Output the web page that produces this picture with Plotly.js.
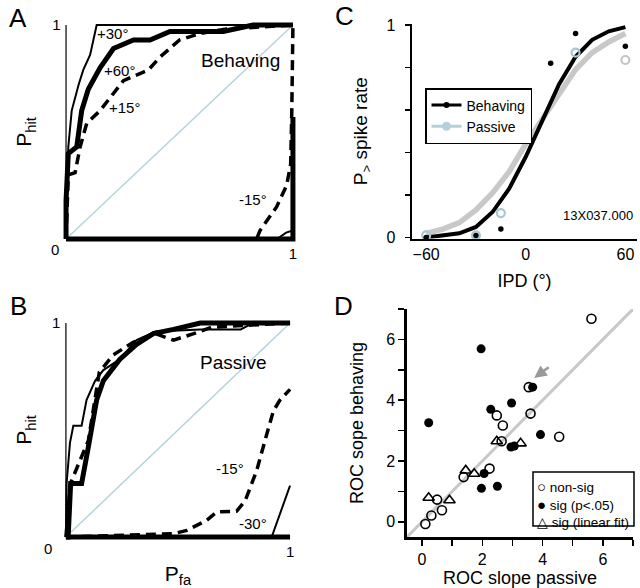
<!DOCTYPE html>
<html><head><meta charset="utf-8">
<script src="https://cdn.plot.ly/plotly-3.0.1.min.js"></script>
<style>body{margin:0;background:#fff}#chart{width:640px;height:588px}</style>
</head><body><div id="chart"></div>
<script>
// ---------- Panel A: ROC curves, behaving ----------
const aP30_fa  = [0, 0, 0.01, 0.025, 0.055, 0.076, 0.106, 0.135, 1];
const aP30_hit = [0, 0.03, 0.43, 0.60, 0.72, 0.79, 0.86, 1.0, 1.0];
const aP60_fa  = [0, 0, 0.01, 0.047, 0.069, 0.098, 0.15, 0.209, 0.297, 0.37, 0.458, 0.693, 0.824, 1];
const aP60_hit = [0, 0.18, 0.40, 0.43, 0.60, 0.70, 0.80, 0.89, 0.93, 0.93, 0.97, 0.97, 1.0, 1.0];
const aP15_fa  = [0, 0.01, 0.04, 0.062, 0.091, 0.15, 0.194, 0.253, 0.341, 0.363, 0.414, 0.5, 0.59, 0.7, 1];
const aP15_hit = [0, 0.30, 0.31, 0.43, 0.54, 0.60, 0.66, 0.74, 0.78, 0.79, 0.85, 0.93, 0.96, 0.98, 1.0];
const aM15_fa  = [0, 0.84, 0.855, 0.928, 0.972, 0.99, 0.995, 1, 1];
const aM15_hit = [0, 0, 0.04, 0.15, 0.25, 0.35, 0.60, 0.88, 1.0];
const aM30_fa  = [0, 0.93, 0.97, 1, 1];
const aM30_hit = [0, 0, 0.03, 0.04, 0.10];
const aM60_fa  = [0, 1, 1];
const aM60_hit = [0, 0, 0.57];
// ---------- Panel B: ROC curves, passive ----------
const bP30_fa  = [0, 0.003, 0.018, 0.033, 0.07, 0.092, 0.13, 0.167, 0.24, 0.315, 0.40, 0.6, 0.78, 0.836, 1];
const bP30_hit = [0, 0.25, 0.44, 0.52, 0.52, 0.64, 0.73, 0.78, 0.83, 0.92, 0.96, 0.97, 0.97, 1.0, 1.0];
const bP60_fa  = [0, 0.01, 0.021, 0.07, 0.10, 0.137, 0.167, 0.24, 0.315, 0.39, 0.48, 0.6, 1];
const bP60_hit = [0, 0, 0.25, 0.25, 0.42, 0.64, 0.73, 0.83, 0.90, 0.95, 0.97, 1.0, 1.0];
const bP15_fa  = [0, 0.02, 0.10, 0.14, 0.149, 0.21, 0.30, 0.40, 0.48, 0.57, 0.65, 1];
const bP15_hit = [0, 0.25, 0.45, 0.70, 0.77, 0.85, 0.91, 0.95, 0.92, 0.95, 0.98, 1.0];
const bM15_fa  = [0, 0.48, 0.54, 0.628, 0.673, 0.762, 0.80, 0.851, 0.896, 0.926, 0.955, 1];
const bM15_hit = [0, 0.016, 0.031, 0.078, 0.117, 0.121, 0.17, 0.31, 0.48, 0.59, 0.64, 0.69];
const bM30_fa  = [0, 0.918, 1];
const bM30_hit = [0, 0, 0.24];
const bM60_fa  = [0, 1];
const bM60_hit = [0, 0];
const chance   = [0, 1];
// ---------- Panel C: neurometric ----------
const ipdPts      = [-60, -30, -15, 15, 30, 60];
const behavePts   = [0.0, 0.01, 0.04, 0.82, 0.96, 0.90];
const passIpd     = [-60, -30, -15, 30, 60];
const passivePts  = [0.01, 0.01, 0.115, 0.87, 0.835];
const passColors  = ['#a9c6d3', '#a9c6d3', '#a9c6d3', '#a9c6d3', '#c4c4c4'];
const ipdCurve    = [-60, -50, -40, -30, -20, -10, 0, 10, 20, 30, 40, 50, 60];
const behaveCurve = [0.00, 0.01, 0.02, 0.05, 0.12, 0.23, 0.38, 0.55, 0.72, 0.85, 0.93, 0.97, 0.99];
const passCurve   = [0.02, 0.04, 0.07, 0.13, 0.21, 0.31, 0.44, 0.56, 0.68, 0.79, 0.87, 0.92, 0.96];
// ---------- Panel D: ROC slopes ----------
const nsPassive = [5.62, 3.60, 2.48, 2.68, 2.64, 4.55, 2.24, 1.38, 0.50, 0.66, 0.31, 0.11, 3.54];
const nsBehave  = [6.68, 3.56, 3.50, 3.17, 2.65, 2.80, 1.75, 1.47, 0.73, 0.38, 0.21, -0.07, 4.43];
const sgPassive = [1.96, 0.22, 2.28, 2.97, 3.67, 3.93, 2.95, 3.06, 2.06, 1.97, 2.50];
const sgBehave  = [5.69, 3.26, 3.70, 3.91, 4.43, 2.87, 2.46, 2.49, 1.59, 1.10, 1.17];
const lfPassive = [2.48, 3.27, 1.45, 1.73, 0.22, 0.91];
const lfBehave  = [2.65, 2.58, 1.69, 1.58, 0.79, 0.71];
const unity     = [-0.5, 7];

const FONT = 'Liberation Sans, Arial, sans-serif';
const thick = {color:'#000', width:5};
const thin = {color:'#000', width:2};
const dashed = {color:'#000', width:3.5, dash:'10px,6px'};

function tr(x, y, line, xa, ya){
  return {x:x, y:y, mode:'lines', line:line, xaxis:xa, yaxis:ya, showlegend:false, hoverinfo:'skip'};
}
const data = [
  tr(chance, chance, {color:'#b5d3dc', width:1.5}, 'x', 'y'),
  tr(aM60_fa, aM60_hit, thick, 'x', 'y'),
  tr(aM30_fa, aM30_hit, thin, 'x', 'y'),
  tr(aM15_fa, aM15_hit, dashed, 'x', 'y'),
  tr(aP15_fa, aP15_hit, dashed, 'x', 'y'),
  tr(aP60_fa, aP60_hit, thick, 'x', 'y'),
  tr(aP30_fa, aP30_hit, thin, 'x', 'y'),

  tr(chance, chance, {color:'#b5d3dc', width:1.5}, 'x2', 'y2'),
  tr(bM60_fa, bM60_hit, thick, 'x2', 'y2'),
  tr(bM30_fa, bM30_hit, thin, 'x2', 'y2'),
  tr(bM15_fa, bM15_hit, dashed, 'x2', 'y2'),
  tr(bP15_fa, bP15_hit, dashed, 'x2', 'y2'),
  tr(bP60_fa, bP60_hit, thick, 'x2', 'y2'),
  tr(bP30_fa, bP30_hit, thin, 'x2', 'y2'),

  tr(ipdCurve, passCurve, {color:'#c8c8c8', width:5.5}, 'x3', 'y3'),
  tr(ipdCurve, behaveCurve, {color:'#000', width:4}, 'x3', 'y3'),
  {x:passIpd, y:passivePts, mode:'markers', xaxis:'x3', yaxis:'y3', showlegend:false, cliponaxis:false,
   marker:{symbol:'circle-open', size:8, color:passColors, line:{width:2.2, color:passColors}}},
  {x:ipdPts, y:behavePts, mode:'markers', xaxis:'x3', yaxis:'y3', showlegend:false, cliponaxis:false,
   marker:{symbol:'circle', size:5.5, color:'#000'}},
  {x:[null], y:[null], mode:'lines+markers', name:'Behaving', xaxis:'x3', yaxis:'y3',
   line:{color:'#000', width:3}, marker:{size:6, color:'#000'}},
  {x:[null], y:[null], mode:'lines+markers', name:'Passive', xaxis:'x3', yaxis:'y3',
   line:{color:'#b5d0da', width:3}, marker:{size:9, color:'#b5d0da'}},

  tr(unity, unity, {color:'#c8c8c8', width:3}, 'x4', 'y4'),
  {x:nsPassive, y:nsBehave, mode:'markers', xaxis:'x4', yaxis:'y4', showlegend:false,
   marker:{symbol:'circle-open', size:9, color:'#000', line:{width:1.6}}},
  {x:sgPassive, y:sgBehave, mode:'markers', xaxis:'x4', yaxis:'y4', showlegend:false,
   marker:{symbol:'circle', size:9, color:'#000'}},
  {x:lfPassive, y:lfBehave, mode:'markers', xaxis:'x4', yaxis:'y4', showlegend:false,
   marker:{symbol:'triangle-up-open', size:10, color:'#000', line:{width:1.6}}}
];

const rocX = (dom) => ({domain:dom, range:[-0.02,1.02], tickvals:[1], ticktext:['1'], ticks:'', showgrid:false,
  zeroline:false, showline:false, tickfont:{size:15, family:FONT, color:'#000'}, fixedrange:true});
const rocY = (dom, anchor) => ({domain:dom, range:[-0.02,1.02], tickvals:[1], ticktext:['1'], ticks:'', showgrid:false,
  zeroline:false, showline:false, anchor:anchor, tickfont:{size:15, family:FONT, color:'#000'},
  title:{text:'P<sub>hit</sub>', font:{size:21, family:FONT, color:'#000'}, standoff:14}});

function lbl(text, px, py, size, extra){
  return Object.assign({text:text, xref:'paper', yref:'paper', x:px/640, y:1-py/588,
    xanchor:'center', yanchor:'middle', showarrow:false, font:{size:size, family:FONT, color:'#000'}}, extra||{});
}
const axisCommon = {showline:true, linewidth:2.5, linecolor:'#000', showgrid:false, zeroline:false,
  tickfont:{size:16, family:FONT, color:'#000'}};

const layout = {
  width:640, height:588, margin:{l:0, r:0, t:0, b:0}, paper_bgcolor:'#fff', plot_bgcolor:'rgba(0,0,0,0)',
  font:{family:FONT, color:'#000'}, showlegend:true,
  xaxis: Object.assign(rocX([0.0961, 0.4648]), {anchor:'y'}),
  yaxis: rocY([0.5862, 0.9648], 'x'),
  xaxis2: Object.assign(rocX([0.0960, 0.4602]), {anchor:'y2',
    title:{text:'P<sub>fa</sub>', font:{size:21, family:FONT, color:'#000'}, standoff:8}}),
  yaxis2: rocY([0.0794, 0.4580], 'x2'),
  xaxis3: Object.assign({}, axisCommon, {domain:[0.6438, 0.9953], range:[-68.5, 67], anchor:'y3',
    tickvals:[-60,0,60], ticks:'',
    title:{text:'IPD (°)', font:{size:18, family:FONT, color:'#000'}, standoff:12}}),
  yaxis3: Object.assign({}, axisCommon, {domain:[0.5942, 0.9594], range:[-0.005, 1.005], anchor:'x3',
    tickvals:[0,1], ticks:'outside', ticklen:5, tickwidth:1.5, tickcolor:'#000', ticklabelstandoff:6,
    minor:{tick0:0, dtick:0.2, ticks:'outside', ticklen:5, tickwidth:1.5, tickcolor:'#000', showgrid:false},
    title:{text:'P<sub>></sub> spike rate', font:{size:19, family:FONT, color:'#000'}, standoff:14}}),
  xaxis4: Object.assign({}, axisCommon, {domain:[0.6359, 0.9891], range:[-0.5, 7], anchor:'y4',
    tickvals:[0,2,4,6], ticks:'outside', ticklen:6, tickwidth:1.5, tickcolor:'#000',
    minor:{tick0:0, dtick:1, ticks:'outside', ticklen:6, tickwidth:1.5, tickcolor:'#000', showgrid:false},
    title:{text:'ROC slope passive', font:{size:18, family:FONT, color:'#000'}, standoff:6}}),
  yaxis4: Object.assign({}, axisCommon, {domain:[0.0867, 0.4745], range:[-0.5, 7], anchor:'x4',
    tickvals:[0,2,4,6], ticks:'outside', ticklen:6, tickwidth:1.5, tickcolor:'#000',
    minor:{tick0:0, dtick:1, ticks:'outside', ticklen:6, tickwidth:1.5, tickcolor:'#000', showgrid:false},
    title:{text:'ROC sope behaving', font:{size:18, family:FONT, color:'#000'}, standoff:18}}),
  legend:{x:425/640, y:1-88/588, xanchor:'left', yanchor:'top', bgcolor:'#fff', bordercolor:'#000',
    borderwidth:1.5, itemwidth:30, font:{size:14, family:FONT, color:'#000'}, tracegroupgap:2},
  shapes:[
    {type:'line', xref:'x', yref:'y', x0:0, x1:0, y0:0, y1:1, line:{color:'#000', width:1.2}},
    {type:'line', xref:'x2', yref:'y2', x0:0, x1:0, y0:0, y1:1, line:{color:'#000', width:1.2}},
    {type:'rect', xref:'paper', yref:'paper', x0:533/640, x1:634/640, y0:1-526/588, y1:1-472/588,
     line:{color:'#000', width:1.5}, fillcolor:'#fff', layer:'above'}
  ],
  annotations:[
    lbl('A', 18, 18, 26), lbl('B', 18, 306, 26), lbl('C', 344, 16, 26), lbl('D', 343, 306, 26),
    lbl('0', 55, 249, 15), lbl('0', 48, 548, 15),
    lbl('Behaving', 240, 60, 19),
    lbl('+30°', 112, 33, 15), lbl('+60°', 119, 70, 15), lbl('+15°', 124, 108, 15), lbl('-15°', 253, 200, 15),
    lbl('Passive', 233, 362, 19), lbl('-15°', 230, 468, 15), lbl('-30°', 253, 523, 15),
    lbl('13X037.000', 598, 216, 13),
    {text:'', xref:'x4', yref:'y4', x:3.72, y:4.73, ax:16, ay:-12, showarrow:true,
     arrowhead:2, arrowsize:1, arrowwidth:2.5, arrowcolor:'#999', standoff:0},
    lbl('<span style="font-size:15px">○</span> non-sig<br><span style="font-size:15px">●</span> sig (p<.05)<br><span style="font-size:14px">△</span> sig (linear fit)',
        535, 476, 13.5, {xanchor:'left', yanchor:'top', align:'left'})
  ]
};
Plotly.newPlot('chart', data, layout, {staticPlot:true, displayModeBar:false});
</script></body></html>
